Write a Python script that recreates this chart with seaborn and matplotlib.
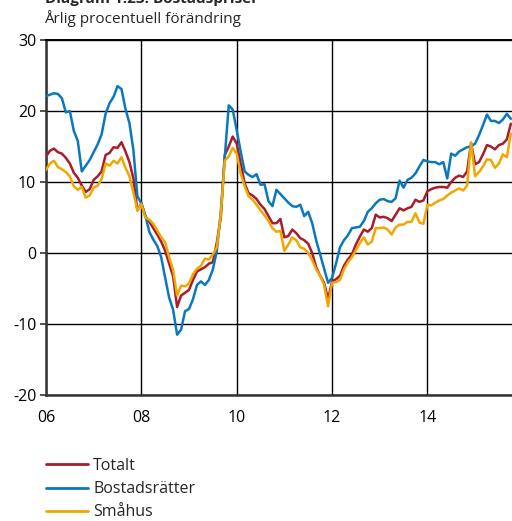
import numpy as np
import pandas as pd
import matplotlib
matplotlib.use("Agg")
import matplotlib.pyplot as plt
from matplotlib.lines import Line2D
import seaborn as sns

# Monthly annual percentage change in house prices, Jan 2006 onwards
totalt = [
    13.6, 14.4, 14.7, 14.2, 14.0, 13.4, 12.6, 11.3, 10.6, 9.5, 8.6, 9.0,
    10.3, 10.8, 11.5, 13.8, 14.1, 14.9, 14.8, 15.6, 14.3, 12.8, 10.5, 6.0,
    7.0, 5.2, 4.4, 3.5, 2.6, 1.6, 0.3, -1.5, -3.3, -7.6, -6.0, -5.6,
    -5.2, -3.8, -2.6, -2.3, -2.0, -1.5, -1.3, 1.5, 5.0, 13.8, 15.0, 16.4,
    15.4, 12.6, 9.8, 8.4, 8.1, 7.6, 6.8, 6.2, 5.2, 4.2, 4.2, 4.8,
    2.2, 2.4, 3.3, 2.8, 2.1, 1.8, 1.3, 0.0, -2.0, -3.2, -4.2, -6.5,
    -4.0, -3.7, -3.2, -1.8, -0.9, -0.2, 1.2, 2.3, 3.3, 3.0, 3.5, 5.4,
    5.0, 5.1, 4.9, 4.5, 5.4, 6.3, 6.0, 6.3, 6.5, 7.5, 7.2, 7.4,
    8.7, 9.0, 9.2, 9.3, 9.3, 9.2, 10.0, 10.6, 10.9, 10.7, 11.5, 15.5,
    12.5, 12.8, 13.9, 15.2, 15.0, 14.6, 15.2, 15.4, 16.0, 18.2,
]
bostadsratter = [
    22.1, 22.3, 22.5, 22.4, 21.8, 19.8, 20.0, 17.2, 15.8, 11.5, 12.3, 13.1,
    14.2, 15.3, 16.7, 19.6, 21.1, 22.0, 23.5, 23.1, 20.3, 18.3, 14.5, 8.0,
    7.0, 5.3, 3.0, 1.9, 1.0, -0.6, -3.5, -6.3, -8.0, -11.5, -10.8, -8.2,
    -7.9, -6.5, -4.5, -4.0, -4.5, -3.8, -2.3, 0.3, 5.8, 13.5, 20.8, 20.2,
    17.3, 14.3, 11.5, 11.0, 10.7, 11.1, 9.6, 9.7, 7.3, 6.6, 8.9, 8.3,
    7.7, 7.1, 6.6, 6.5, 6.8, 5.2, 5.8, 4.2, 1.8, -0.2, -2.2, -4.2,
    -3.5, -1.5, 0.8, 1.8, 2.5, 3.5, 3.6, 3.7, 4.5, 5.8, 6.3, 7.0,
    7.5, 7.6, 7.3, 7.2, 7.7, 10.2, 9.2, 10.3, 10.6, 11.2, 12.2, 13.1,
    12.9, 12.8, 12.8, 12.5, 12.8, 10.5, 14.0, 13.7, 14.3, 14.6, 14.9, 15.0,
    15.4, 16.6, 18.0, 19.5, 18.6, 18.6, 18.3, 18.8, 19.6, 18.9,
]
smahus = [
    11.7, 12.6, 13.0, 12.1, 11.8, 11.4, 10.8, 9.4, 8.9, 9.3, 7.8, 8.1,
    9.2, 9.5, 10.4, 12.6, 12.3, 13.0, 12.6, 13.5, 12.0, 10.8, 8.5, 6.0,
    6.9, 5.0, 4.7, 4.1, 3.2, 2.2, 1.5, -0.6, -2.4, -6.0, -4.6, -4.7,
    -4.3, -3.0, -2.2, -1.8, -0.8, -0.9, -0.2, 0.8, 5.5, 13.0, 13.6, 14.8,
    14.0, 11.2, 9.4, 8.0, 7.5, 6.8, 6.0, 5.3, 4.5, 3.5, 3.0, 3.1,
    0.3, 1.2, 2.2, 1.8, 0.8, 0.6, 0.0, -1.0, -2.3, -3.2, -4.5, -7.5,
    -4.2, -4.1, -3.8, -2.3, -1.3, -0.6, 0.4, 1.4, 2.2, 1.2, 1.6, 3.5,
    3.5, 3.6, 3.3, 2.6, 3.6, 4.0, 4.0, 4.4, 4.4, 5.6, 4.3, 4.1,
    6.8, 6.7, 7.1, 7.4, 7.6, 8.1, 8.5, 8.8, 9.1, 8.8, 9.5, 15.6,
    10.8, 11.4, 12.2, 13.2, 13.1, 12.0, 12.6, 13.9, 13.5, 16.8,
]

series_names = ["Totalt", "Bostadsrätter", "Småhus"]
series_colors = ["#a81c2c", "#0a78bf", "#f0a800"]
year_ticks = [2006, 2008, 2010, 2012, 2014]
year_labels = ["06", "08", "10", "12", "14"]
y_ticks = [-20, -10, 0, 10, 20, 30]

n = len(totalt)
months = 2006 + np.arange(n) / 12.0
df = pd.DataFrame({
    "tid": np.tile(months, 3),
    "forandring": totalt + bostadsratter + smahus,
    "serie": np.repeat(series_names, n),
})

sns.set_theme(style="white")
plt.rcParams["font.family"] = ["Open Sans", "DejaVu Sans"]

W, H = 512, 521
fig = plt.figure(figsize=(W / 100, H / 100), dpi=100)
ax = fig.add_axes([46 / W, 1 - 395 / H, 1 - 46 / W, (395 - 40) / H])

palette = dict(zip(series_names, series_colors))
sns.lineplot(data=df, x="tid", y="forandring", hue="serie", hue_order=series_names,
             palette=palette, linewidth=1.8, ax=ax, legend=False, zorder=3)

ax.set_xlim(2006, 2006 + 117.3 / 12)
ax.set_ylim(-20, 30)
ax.set_xticks(year_ticks)
ax.set_xticklabels(year_labels)
ax.set_yticks(y_ticks)
ax.set_yticklabels([str(v) for v in y_ticks])
ax.set_xlabel("")
ax.set_ylabel("")

ax.grid(True, color="black", linewidth=1.0)
ax.set_axisbelow(True)
ax.tick_params(axis="y", which="major", left=True, length=4, width=1.2,
               direction="out", color="#333333", labelsize=11.5, pad=3,
               labelcolor="black")
ax.tick_params(axis="x", which="major", bottom=False, length=0, labelsize=11.5,
               pad=11, labelcolor="black")

for side in ["left", "bottom"]:
    ax.spines[side].set_color("#333333")
    ax.spines[side].set_linewidth(1.8)
ax.spines["top"].set_color("black")
ax.spines["top"].set_linewidth(1.4)
ax.spines["right"].set_visible(False)

fig.text(45 / W, 1 - 3.5 / H, "Diagram 1.23. Bostadspriser", fontsize=11,
         fontweight="bold", ha="left", va="baseline")
fig.text(44 / W, 1 - 23 / H, "Årlig procentuell förändring", fontsize=11,
         ha="left", va="baseline")

handles = [Line2D([0], [0], color=c, linewidth=2.0) for c in series_colors]
fig.legend(handles, series_names, loc="upper left",
           bbox_to_anchor=(46 / W, 1 - 458 / H), frameon=False, fontsize=11.5,
           handlelength=2.6, handletextpad=0.35, labelspacing=0.45,
           borderpad=0, borderaxespad=0)

fig.savefig("out.png", dpi=100)
